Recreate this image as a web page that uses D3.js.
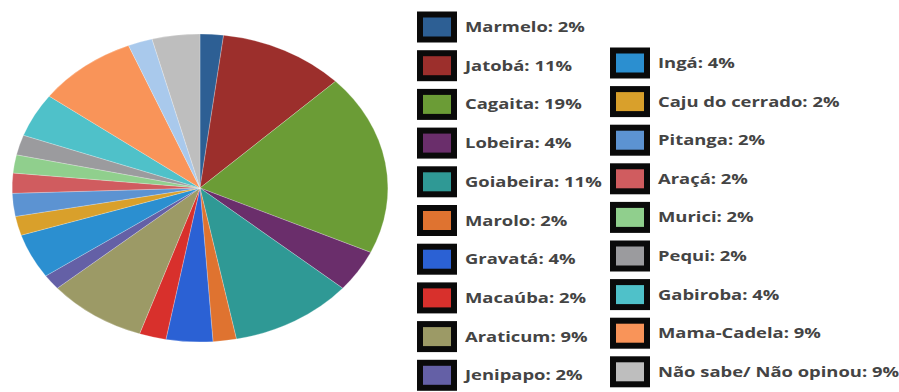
<!DOCTYPE html>
<html>
<head>
<meta charset="utf-8">
<script src="https://cdn.jsdelivr.net/npm/d3@7"></script>
<style>
  body { margin: 0; background: #fff; }
  svg { display: block; }
  .leg text { font-family: "Open Sans", sans-serif; font-weight: 700; font-size: 14.5px; fill: #444; }
</style>
</head>
<body>
<svg width="899" height="392"></svg>
<script>
// slices, clockwise from the top (one small slice has no legend entry)
var names = ["Marmelo", "Jatobá", "Cagaita", "Lobeira", "Goiabeira", "Marolo", "Gravatá",
  "Macaúba", "Araticum", "Jenipapo", "Ingá", "Caju do cerrado", "Pitanga", "Araçá",
  "Murici", "Pequi", "Gabiroba", "Mama-Cadela", null, "Não sabe/ Não opinou"];
// slice sizes as drawn
var values = [2, 10.8, 19, 4.4, 10.6, 2, 4, 2.3, 8.5, 1.6, 4.7, 2, 2.4, 2.1, 1.9, 2.1, 4.6, 8.6, 2.1, 4.1];
// percentages printed in the legend
var labelPct = [2, 11, 19, 4, 11, 2, 4, 2, 9, 2, 4, 2, 2, 2, 2, 2, 4, 9, null, 9];
var colors = ["#2d5f94", "#9c2f2c", "#6b9c36", "#6a2e6b", "#2f9995", "#df7330", "#2b61d4",
  "#d8302c", "#9c9a66", "#6460a6", "#2b8fd0", "#d9a02b", "#5c93d2", "#d05c5f",
  "#90cf8d", "#9b9b9e", "#4fc1c9", "#f99459", "#a9c9ec", "#bebebe"];
var leftCol = names.slice(0, 10);
var rightCol = names.slice(10).filter(function(d) { return d !== null; });

var svg = d3.select("svg");
var stretch = 1.22;

var rY = 154,
    cx = 200, cy = 188;

var pie = d3.pie().sort(null).value(function(d) { return d; });
var arc = d3.arc().innerRadius(0).outerRadius(rY);

var pieG = svg.append("g")
    .attr("transform", "translate(" + cx + "," + cy + ") scale(" + stretch + ",1)");

pieG.selectAll("path")
    .data(pie(values))
  .enter().append("path")
    .attr("d", arc)
    .attr("fill", function(d, i) { return colors[i]; })
    .attr("stroke", "rgba(255,255,255,0.35)")
    .attr("stroke-width", 0.6);

function legendColumn(list, x0, y0, step) {
  var y = d3.scalePoint().domain(list).range([y0, y0 + step * (list.length - 1)]);
  var g = svg.append("g").attr("class", "leg").selectAll("g")
      .data(list)
    .enter().append("g")
      .attr("transform", function(d) { return "translate(" + x0 + "," + y(d) + ")"; });

  g.append("rect")
      .attr("x", 3).attr("y", -12.5)
      .attr("width", 34).attr("height", 25)
      .attr("fill", function(d) { return colors[names.indexOf(d)]; })
      .attr("stroke", "#0a0a0a")
      .attr("stroke-width", 6);

  g.append("text")
      .attr("transform", "translate(48,5) scale(1.27,1)")
      .text(function(d) { return d + ": " + labelPct[names.indexOf(d)] + "%"; });
}

legendColumn(leftCol, 417, 27, 38.7);
legendColumn(rightCol, 610, 63, 38.6);
</script>
</body>
</html>
